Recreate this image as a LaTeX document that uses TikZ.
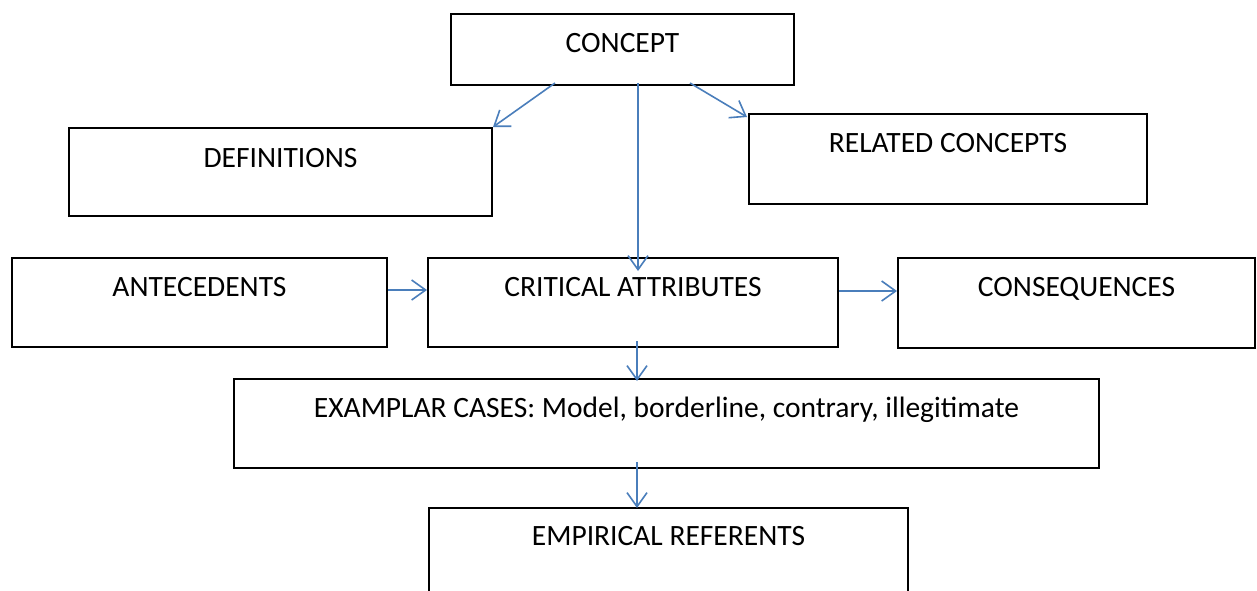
\documentclass[tikz,border=0pt]{standalone}
\usepackage{fontspec}
\setmainfont{Carlito}
\usetikzlibrary{arrows.meta,calc}
\definecolor{arrowblue}{RGB}{74,126,187}
\tikzset{
  box/.style={draw=black, line width=2pt, rectangle, anchor=north west, inner sep=0pt},
  lbl/.style={font=\fontsize{29.5}{35}\selectfont, inner sep=0pt, anchor=base},
  link/.style={draw=arrowblue, line width=1.6pt,
    -{Straight Barb[length=14pt,width=20pt,line width=1.6pt]}},
}
\begin{document}
\begin{tikzpicture}[x=1pt,y=-1pt]
\clip (0,0) rectangle (1257,590);
\fill[white] (0,0) rectangle (1257,590);

% boxes
\node[box, minimum width=343pt, minimum height=71pt] (concept) at (450,13) {};
\node[box, minimum width=423pt, minimum height=88pt] (defs) at (68,127) {};
\node[box, minimum width=398pt, minimum height=90pt] (related) at (748,113) {};
\node[box, minimum width=375pt, minimum height=89pt] (ante) at (11,257) {};
\node[box, minimum width=410pt, minimum height=89pt] (crit) at (427,257) {};
\node[box, minimum width=357pt, minimum height=90pt] (cons) at (897,257) {};
\node[box, minimum width=865pt, minimum height=89pt] (exem) at (233,378) {};
\node[box, minimum width=479pt, minimum height=120pt] (emp) at (428,507) {};

% labels
\node[lbl] (conceptT) at ($(concept.north)+(0,39)$) {CONCEPT};
\node[lbl] (defsT) at ($(defs.north)+(0,40)$) {DEFINITIONS};
\node[lbl] (relatedT) at ($(related.north)+(0,39)$) {RELATED CONCEPTS};
\node[lbl] (anteT) at ($(ante.north)+(0,39)$) {ANTECEDENTS};
\node[lbl] (critT) at ($(crit.north)+(0,39)$) {CRITICAL ATTRIBUTES};
\node[lbl] (consT) at ($(cons.north)+(0,39)$) {CONSEQUENCES};
\node[lbl] (exemT) at ($(exem.north)+(0,39)$) {EXAMPLAR CASES: Model, borderline, contrary, illegitimate};
\node[lbl] (empT) at ($(emp.north)+(0,38)$) {EMPIRICAL REFERENTS};

% connectors
\draw[link] ($(concept.south west)+(105,-3)$) -- (defs.north east);
\draw[link] ($(concept.south west)+(188,-3)$) -- ($(crit.north west)+(211,14)$);
\draw[link] ($(concept.south west)+(240,-3)$) -- ($(related.north west)+(-1,4)$);
\draw[link] ($(ante.north east)+(0,33)$) -- ($(crit.north west)+(0,33)$);
\draw[link] ($(crit.north east)+(0,34)$) -- ($(cons.north west)+(0,34)$);
\draw[link] ($(crit.south west)+(210,-7)$) -- ($(exem.north west)+(404,3)$);
\draw[link] ($(exem.south west)+(404,-7)$) -- ($(emp.north west)+(209,1)$);
\end{tikzpicture}
\end{document}
